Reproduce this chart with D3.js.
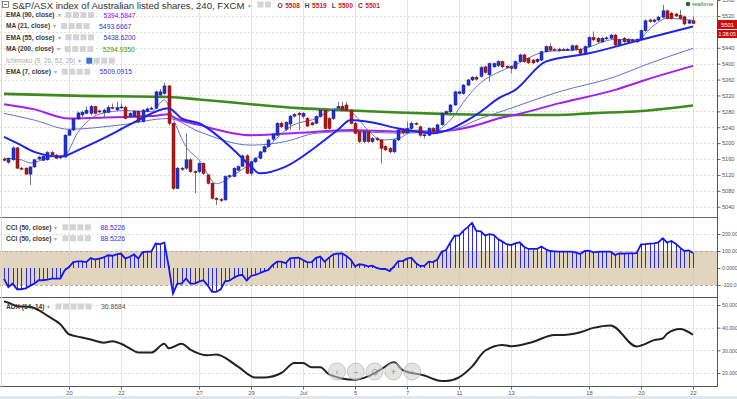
<!DOCTYPE html>
<html><head><meta charset="utf-8">
<script src="https://cdn.jsdelivr.net/npm/d3@7"></script>
<style>
html,body{margin:0;padding:0;background:#fff;overflow:hidden;}
svg{display:block;font-family:Arial,"Liberation Sans",sans-serif;}
</style></head><body>
<svg id="c" width="737" height="399"></svg>
<script>
// ---------- DATA ----------
// 4-hour candles, index 0..159 : [open, high, low, close]
const ohlc = [
[5160,5164,5154,5157],[5152,5164,5148,5161],[5158,5192,5156,5188],[5188,5190,5135,5137],[5137,5140,5132,5136],
[5137,5139,5120,5122],[5122,5142,5095,5140],[5140,5160,5138,5158],[5160,5167,5157,5165],[5157,5169,5155,5167],
[5158,5180,5156,5176],[5176,5180,5168,5170],[5170,5172,5160,5162],[5166,5168,5160,5163],[5165,5223,5163,5220],
[5220,5236,5218,5233],[5233,5264,5231,5261],[5261,5280,5258,5276],[5271,5282,5266,5278],[5275,5292,5273,5283],
[5275,5296,5270,5292],[5292,5294,5272,5275],[5280,5285,5276,5281],[5277,5287,5262,5283],[5278,5295,5275,5290],
[5290,5300,5285,5288],[5284,5304,5280,5290],[5290,5300,5286,5291],[5290,5295,5260,5262],[5267,5278,5264,5275],
[5267,5284,5265,5280],[5280,5283,5250,5254],[5254,5286,5252,5283],[5280,5290,5278,5286],[5287,5292,5284,5288],
[5288,5332,5286,5329],[5321,5336,5318,5329],[5325,5352,5322,5344],[5344,5346,5245,5250],[5250,5252,5082,5086],
[5086,5140,5084,5137],[5137,5140,5130,5134],[5137,5225,5133,5158],[5158,5162,5125,5128],[5128,5132,5074,5126],
[5128,5152,5125,5149],[5149,5151,5120,5124],[5120,5122,5096,5099],[5099,5101,5058,5061],[5061,5064,5044,5058],
[5058,5062,5052,5057],[5057,5119,5055,5116],[5116,5121,5112,5118],[5116,5139,5114,5137],[5132,5144,5130,5141],
[5142,5171,5140,5168],[5168,5172,5122,5124],[5124,5156,5118,5153],[5153,5165,5150,5162],[5162,5181,5160,5178],
[5178,5194,5176,5191],[5191,5211,5189,5208],[5210,5226,5206,5223],[5220,5253,5218,5250],[5250,5254,5238,5241],
[5235,5255,5230,5252],[5248,5271,5233,5268],[5268,5276,5264,5272],[5275,5279,5233,5271],[5267,5278,5262,5275],
[5262,5266,5240,5243],[5251,5254,5244,5246],[5250,5270,5248,5267],[5267,5286,5264,5283],[5283,5286,5234,5237],
[5262,5266,5234,5237],[5262,5286,5258,5283],[5288,5304,5285,5292],[5293,5304,5280,5283],[5296,5304,5280,5282],
[5283,5286,5247,5250],[5250,5253,5222,5225],[5229,5232,5200,5204],[5204,5232,5200,5229],[5229,5231,5201,5204],
[5204,5215,5200,5212],[5212,5216,5205,5208],[5208,5210,5149,5187],[5191,5194,5180,5183],[5187,5190,5174,5178],
[5178,5211,5175,5208],[5208,5236,5205,5233],[5233,5237,5222,5226],[5226,5254,5222,5237],[5237,5254,5233,5250],
[5250,5253,5245,5248],[5241,5244,5216,5220],[5220,5224,5212,5221],[5220,5240,5218,5237],[5237,5240,5226,5229],
[5229,5249,5226,5246],[5246,5278,5244,5275],[5275,5282,5272,5279],[5279,5299,5276,5296],[5296,5332,5294,5329],
[5325,5332,5322,5329],[5325,5349,5322,5346],[5346,5362,5344,5359],[5359,5369,5356,5366],[5366,5370,5358,5361],
[5368,5394,5365,5390],[5392,5395,5375,5378],[5372,5403,5355,5400],[5392,5403,5390,5400],[5395,5409,5392,5405],
[5405,5408,5389,5392],[5392,5396,5389,5393],[5393,5396,5376,5388],[5388,5408,5385,5405],[5405,5425,5402,5422],
[5422,5425,5402,5405],[5413,5416,5399,5402],[5409,5412,5399,5402],[5405,5414,5402,5411],[5409,5433,5406,5430],
[5430,5446,5428,5443],[5443,5451,5431,5434],[5436,5440,5431,5434],[5433,5440,5430,5436],[5436,5440,5432,5435],
[5435,5440,5432,5436],[5434,5448,5431,5445],[5445,5448,5433,5436],[5436,5439,5423,5426],[5428,5446,5425,5443],
[5443,5469,5440,5466],[5466,5481,5457,5460],[5464,5467,5452,5455],[5455,5467,5452,5464],[5464,5469,5460,5465],
[5464,5475,5461,5472],[5472,5475,5444,5447],[5447,5463,5444,5460],[5464,5467,5452,5455],[5455,5464,5452,5461],
[5460,5463,5455,5458],[5455,5464,5452,5461],[5461,5486,5458,5483],[5483,5511,5480,5508],[5510,5513,5503,5506],
[5506,5513,5503,5510],[5510,5520,5507,5517],[5517,5548,5514,5533],[5533,5536,5511,5514],[5527,5530,5511,5514],
[5525,5528,5517,5520],[5522,5535,5511,5514],[5518,5521,5497,5500],[5502,5511,5500,5508],[5508,5519,5500,5501]
];

// moving averages: [candle index, value]
const ma200 = [[0,5324],[18,5319],[38,5316],[45,5310],[57,5298],[68,5288],[80,5282],[91,5277],[103,5273],[114,5271],[128,5271],[135,5275],[147,5281],[159,5294.9]];
const ema90 = [[0,5298],[7,5285],[15,5262],[22,5264],[34,5268],[38,5273],[39,5266],[45,5246],[57,5220],[68,5226],[80,5233],[91,5229],[99,5229],[105,5235],[110,5248],[114,5262],[118,5271],[128,5300],[141,5334],[148,5359],[159,5394.6]];
const ema55 = [[0,5275],[7,5258],[15,5235],[27,5246],[38,5262],[45,5229],[57,5195],[65,5204],[72,5225],[80,5229],[91,5225],[103,5233],[110,5262],[117,5288],[128,5329],[141,5367],[148,5397],[159,5438.6]];
const ma21 = [[0,5216],[3,5200],[7,5178],[13,5166],[18,5187],[26,5229],[31,5258],[38,5288],[41,5262],[45,5250],[53,5183],[57,5141],[59,5124],[65,5141],[72,5191],[77,5233],[80,5258],[84,5254],[91,5237],[99,5225],[107,5258],[110,5279],[114,5312],[118,5334],[125,5405],[135,5426],[147,5460],[159,5493.7]];
const ema7 = [[0,5162],[4,5158],[6,5150],[11,5166],[14,5170],[17,5226],[22,5273],[28,5282],[34,5279],[37,5309],[39,5262],[42,5191],[45,5158],[49,5098],[53,5120],[57,5150],[61,5191],[66,5241],[72,5262],[77,5288],[80,5279],[84,5233],[87,5208],[91,5212],[95,5233],[99,5229],[103,5258],[107,5317],[110,5352],[114,5378],[117,5392],[125,5430],[133,5436],[141,5461],[146,5460],[150,5497],[153,5514],[159,5509.1]];

// CCI(50) per candle
const cci = [
-62,-112,-92,-125,-125,-120,-105,-92,-72,-72,
-68,-62,-62,-62,-14,6,35,39,39,35,
59,50,55,62,75,72,80,85,55,66,
80,55,94,96,96,144,140,149,10,-151,
-92,-92,-62,-92,-92,-80,-72,-102,-141,-141,
-125,-78,-75,-58,-45,-40,-74,-47,-40,-31,
-20,-12,18,37,37,28,57,60,61,47,
33,35,60,67,37,61,80,84,86,71,
50,10,22,18,10,14,0,-6,-6,-18,
10,41,41,55,61,30,12,12,37,35,
50,96,106,150,191,191,218,240,265,218,
215,191,199,195,170,155,140,135,145,151,
125,112,112,112,126,110,100,98,96,96,
96,96,90,82,100,102,92,95,96,96,
96,76,86,84,86,86,88,139,140,143,
145,151,175,150,159,143,120,100,104,88.5
];

// ADX(14,14): [candle index, value]
const adx = [[0,51.6],[1,51],[3,49.5],[6,49.2],[8,47.7],[10,45.3],[13,41.5],[15,37.1],[18,35.7],[20,34.8],[23,33.4],[25,34],[27,32.9],[29,30.9],[31,29],[34,29],[37,32.9],[38,30.9],[41,32.9],[43,30.3],[47,27.8],[49,28.2],[54,22.8],[58,18],[60,18],[64,20],[67,24.4],[69,24.4],[71,22.5],[73,22.5],[75,19.4],[81,17],[84,18.5],[87,21.6],[90,24.7],[92,21.3],[97,18.9],[101,16.5],[102,16.5],[105,18.1],[108,22.8],[111,29.8],[115,32.4],[117,31.8],[122,33.7],[127,36.8],[129,36.8],[133,38],[136,39.9],[140,41],[146,31.7],[147,32.1],[150,34.5],[152,35.2],[153,37.3],[156,39.4],[159,36.87]];

const dateTicks = [15,27,45,57,69,81,93,105,117,135,147,159];
const dateLabels = ["20","22","27","29","Jul","5","7","11","13","18","20","22"];
const priceGrid = [5040,5080,5120,5160,5200,5240,5280,5320,5360,5400,5440,5480,5520,5560];
const priceTickLabels = [5040,5080,5120,5160,5200,5240,5280,5320,5360,5400,5440,5520,5560];
const cciTicks = [200,100,0,-100];
const cciTickLabels = ["200.00","100.00","0.0000","-100.0"];
const adxTicks = [50,40,30,20];
const adxTickLabels = ["50.000","40.000","30.000","20.000"];

const title = "S&P/ASX index of Australian listed shares, 240, FXCM";
const ohlcLabel = [["O","5508"],["H","5519"],["L","5500"],["C","5501"]];
const legendRows = [
  {name:"EMA (90, close)", value:"5394.5847", color:"#9a00ff"},
  {name:"MA (21, close)", value:"5493.6667", color:"#3333cc"},
  {name:"EMA (55, close)", value:"5438.6200", color:"#3333aa"},
  {name:"MA (200, close)", value:"5294.9350", color:"#3c9a10"},
  {name:"Ichimoku (9, 26, 52, 26)", value:"", color:"#999", faded:true},
  {name:"EMA (7, close)", value:"5509.0915", color:"#3333cc"}
];
const cciLegend = [{name:"CCI (50, close)", value:"88.5226"},{name:"CCI (50, close)", value:"88.5226"}];
const adxLegend = {name:"ADX (14, 14)", value:"36.8684"};
const lastPrice = "5501", countdown = "1:38:05";

// ---------- LAYOUT ----------
const W = 737, H = 399, axisX = 717;
const P = {top:0, bottom:217}, C = {top:218, bottom:297}, A = {top:298, bottom:386};

const svg = d3.select("#c");
const x = d3.scaleLinear().domain([0,159]).range([4,693]);
const yP = d3.scaleLinear().domain([5040,5520]).range([206.7,16]);
const yC = d3.scaleLinear().domain([-100,200]).range([285,234]);
const yA = d3.scaleLinear().domain([20,50]).range([373,305]);

const gridGreen = "#d3e6cb";

const defs = svg.append("defs");
[["cp",P],["cc",C],["ca",A]].forEach(([id,p])=>{
  defs.append("clipPath").attr("id",id).append("rect").attr("x",0).attr("y",p.top).attr("width",axisX).attr("height",p.bottom-p.top);
});

// vertical date grid
svg.append("g").selectAll("line").data(dateTicks).join("line")
  .attr("x1",d=>Math.round(x(d))+0.5).attr("x2",d=>Math.round(x(d))+0.5)
  .attr("y1",0).attr("y2",A.bottom).attr("stroke","#dcebd4").attr("stroke-width",1);

// CCI band
svg.append("rect").attr("x",0).attr("y",yC(100)).attr("width",axisX).attr("height",yC(-100)-yC(100)).attr("fill","#e2d5c0");
svg.append("g").selectAll("line").data([100,-100]).join("line")
  .attr("x1",0).attr("x2",axisX).attr("y1",d=>Math.round(yC(d))+0.5).attr("y2",d=>Math.round(yC(d))+0.5)
  .attr("stroke","#b5ab9a").attr("stroke-dasharray","3,2");
svg.append("g").selectAll("line").data(dateTicks).join("line")
  .attr("x1",d=>Math.round(x(d))+0.5).attr("x2",d=>Math.round(x(d))+0.5)
  .attr("y1",yC(100)).attr("y2",yC(-100)).attr("stroke","#cfd2b4").attr("stroke-width",1);

function hgrid(ticks, scale){
  svg.append("g").selectAll("line").data(ticks).join("line")
    .attr("x1",0).attr("x2",axisX).attr("y1",d=>Math.round(scale(d))+0.5).attr("y2",d=>Math.round(scale(d))+0.5)
    .attr("stroke",gridGreen).attr("stroke-dasharray","2,2");
}
hgrid(priceGrid.filter(t=>yP(t)>2), yP);
hgrid([200], yC);
hgrid(adxTicks, yA);

// price panel
const gp = svg.append("g").attr("clip-path","url(#cp)");
const lineGen = d3.line().x(d=>x(d[0])).y(d=>yP(d[1])).curve(d3.curveMonotoneX);
[
  {d:ma200, c:"#3d8a1e", w:2.6},
  {d:ema90, c:"#a51ff0", w:2},
  {d:ema55, c:"#6b6bd0", w:1},
  {d:ema7,  c:"#6e6ee0", w:1},
].forEach(m=>gp.append("path").attr("d",lineGen(m.d)).attr("fill","none").attr("stroke",m.c).attr("stroke-width",m.w));

const cg = gp.append("g");
cg.selectAll("line").data(ohlc).join("line")
  .attr("x1",(d,i)=>Math.round(x(i))+0.5).attr("x2",(d,i)=>Math.round(x(i))+0.5)
  .attr("y1",d=>yP(d[1])).attr("y2",d=>yP(d[2]))
  .attr("stroke","#777").attr("stroke-width",1);
cg.selectAll("rect").data(ohlc).join("rect")
  .attr("x",(d,i)=>Math.round(x(i))-1)
  .attr("y",d=>yP(Math.max(d[0],d[3])))
  .attr("width",3)
  .attr("height",d=>Math.max(1,Math.abs(yP(d[0])-yP(d[3]))))
  .attr("fill",d=>d[3]>=d[0]?"#2233d6":"#b01818")
  .attr("stroke",d=>d[3]>=d[0]?"#14148a":"#7a0c0c").attr("stroke-width",0.5);

gp.append("path").attr("d",lineGen(ma21)).attr("fill","none").attr("stroke","#1f24e6").attr("stroke-width",2);

// CCI panel
const gc = svg.append("g").attr("clip-path","url(#cc)");
gc.selectAll("line").data(cci).join("line")
  .attr("x1",(d,i)=>Math.round(x(i))+0.5).attr("x2",(d,i)=>Math.round(x(i))+0.5)
  .attr("y1",yC(0)).attr("y2",d=>yC(d)).attr("stroke","#2a2af0").attr("stroke-width",1);
gc.append("path").attr("d",d3.line().x((d,i)=>x(i)).y(d=>yC(d))(cci))
  .attr("fill","none").attr("stroke","#1616ee").attr("stroke-width",1.8);

// ADX panel
const ga = svg.append("g").attr("clip-path","url(#ca)");
ga.append("path").attr("d",d3.line().x(d=>x(d[0])).y(d=>yA(d[1])).curve(d3.curveMonotoneX)(adx))
  .attr("fill","none").attr("stroke","#222").attr("stroke-width",2);

// separators / axis lines
svg.append("line").attr("x1",0).attr("x2",axisX).attr("y1",217.5).attr("y2",217.5).attr("stroke","#666");
svg.append("line").attr("x1",0).attr("x2",axisX).attr("y1",297.5).attr("y2",297.5).attr("stroke","#555");
svg.append("line").attr("x1",0).attr("x2",axisX+1).attr("y1",386.5).attr("y2",386.5).attr("stroke","#555");
svg.append("line").attr("x1",axisX+0.5).attr("x2",axisX+0.5).attr("y1",0).attr("y2",387).attr("stroke","#555");
svg.append("line").attr("x1",1.5).attr("x2",1.5).attr("y1",0).attr("y2",387).attr("stroke","#d8dce0");
svg.append("rect").attr("x",0).attr("y",396).attr("width",W).attr("height",3).attr("fill","#e4e7ea");

// axes
function styleAxis(fs){
  return g=>{
    g.select(".domain").remove();
    g.selectAll("line").attr("stroke","#666");
    g.selectAll("text").attr("fill","#555").style("font-size",fs).style("font-family","Arial, 'Liberation Sans', sans-serif");
  };
}
svg.append("g").attr("transform",`translate(${axisX+0.5},0)`)
  .call(d3.axisRight(yP).tickValues(priceTickLabels).tickSize(3).tickPadding(1.5).tickFormat(d3.format("d")))
  .call(styleAxis("5.6px"));
svg.append("g").attr("transform",`translate(${axisX+0.5},0)`)
  .call(d3.axisRight(yC).tickValues(cciTicks).tickSize(3).tickPadding(1.5).tickFormat((d,i)=>cciTickLabels[i]))
  .call(styleAxis("5.2px"));
svg.append("g").attr("transform",`translate(${axisX+0.5},0)`)
  .call(d3.axisRight(yA).tickValues(adxTicks).tickSize(3).tickPadding(1.5).tickFormat((d,i)=>adxTickLabels[i]))
  .call(styleAxis("5.2px"));
svg.append("g").attr("transform",`translate(0,386.5)`)
  .call(d3.axisBottom(x).tickValues(dateTicks).tickSize(3).tickPadding(1.5).tickFormat((d,i)=>dateLabels[i]))
  .call(styleAxis("5.8px"));

// last price labels
svg.append("rect").attr("x",axisX).attr("y",20).attr("width",20).attr("height",9).attr("fill","#cc0a0a");
svg.append("text").attr("x",axisX+4).attr("y",26.8).text(lastPrice).attr("fill","#fff").style("font-size","5.8px");
svg.append("rect").attr("x",axisX).attr("y",30).attr("width",20).attr("height",8).attr("fill","#cc0a0a");
svg.append("text").attr("x",axisX+1.5).attr("y",36.2).text(countdown).attr("fill","#fff").style("font-size","5.2px");

// realtime
svg.append("circle").attr("cx",688).attr("cy",4).attr("r",2.3).attr("fill","#1a6b35");
svg.append("text").attr("x",692).attr("y",6.2).text("realtime").attr("fill","#2a7a3e").style("font-size","6px");

// legends
function icons(g, x0, y, n, firstBlue){
  for(let k=0;k<n;k++){
    g.append("rect").attr("x",x0+k*7.5).attr("y",y-3).attr("width",6).attr("height",6)
      .attr("fill",(firstBlue&&k===0)?"#3f6fd8":"#d4d4d4");
  }
}
function legendRow(yc, name, value, valColor, opts={}){
  const g = svg.append("g");
  const t = g.append("text").attr("x",6).attr("y",yc+2.4).text(name)
    .attr("fill",opts.faded?"#aaa":"#3a3a3a").style("font-size","6.6px").style("font-weight",opts.faded?"normal":"bold");
  const tl = t.node().getComputedTextLength();
  g.append("text").attr("x",6+tl+3).attr("y",yc+2.2).text("▾").attr("fill","#aaa").style("font-size","5.5px");
  const ix = 6+tl+11;
  icons(g, ix, yc, opts.n||4, opts.firstBlue);
  if(value) g.append("text").attr("x",ix+(opts.n||4)*7.5+8).attr("y",yc+2.5).text(value)
    .attr("fill",valColor).style("font-size","6.8px");
}
const rowY = [15,26,37.3,49,60.7,71.7];
legendRows.forEach((r,i)=>legendRow(rowY[i], r.name, r.value, r.color, {faded:r.faded, firstBlue:r.faded}));
cciLegend.forEach((r,i)=>legendRow([227.3,238.3][i], r.name, r.value, "#2f2fee"));
legendRow(306.5, adxLegend.name, adxLegend.value, "#555", {n:5});

// title
svg.append("rect").attr("x",2.5).attr("y",1.5).attr("width",6).attr("height",6).attr("fill","none").attr("stroke","#666").attr("stroke-width",0.8);
svg.append("line").attr("x1",4).attr("x2",7).attr("y1",4.5).attr("y2",4.5).attr("stroke","#666").attr("stroke-width",0.8);
const tt = svg.append("text").attr("x",12).attr("y",8.5).text(title).attr("fill","#333").style("font-size","9.6px");
const ttl = tt.node().getComputedTextLength();
svg.append("text").attr("x",12+ttl+3).attr("y",7.5).text("▾").attr("fill","#aaa").style("font-size","5.5px");
const tg = svg.append("g");
const ix0 = 12+ttl+13;
icons(tg, ix0, 4.5, 2, false);
let ox = ix0+2*7.5+5;
ohlcLabel.forEach(([k,v])=>{
  const a = svg.append("text").attr("x",ox).attr("y",7.5).text(k).attr("fill","#444").style("font-size","6.6px").style("font-weight","bold");
  ox += a.node().getComputedTextLength()+2.5;
  const b = svg.append("text").attr("x",ox).attr("y",7.5).text(v).attr("fill","#d42020").style("font-size","6.6px").style("font-weight","bold");
  ox += b.node().getComputedTextLength()+5;
});

// zoom buttons
const btnSyms = ["‹","−","⊙","+","›"];
const bg = svg.append("g");
btnSyms.forEach((s,i)=>{
  const cx = 337 + i*18.8;
  bg.append("circle").attr("cx",cx).attr("cy",371.5).attr("r",8.5).attr("fill","rgba(205,205,205,0.55)").attr("stroke","rgba(170,170,170,0.6)");
  bg.append("text").attr("x",cx).attr("y",374.5).attr("text-anchor","middle").text(s).attr("fill","rgba(120,120,120,0.8)").style("font-size","9px");
});
</script>
</body></html>
